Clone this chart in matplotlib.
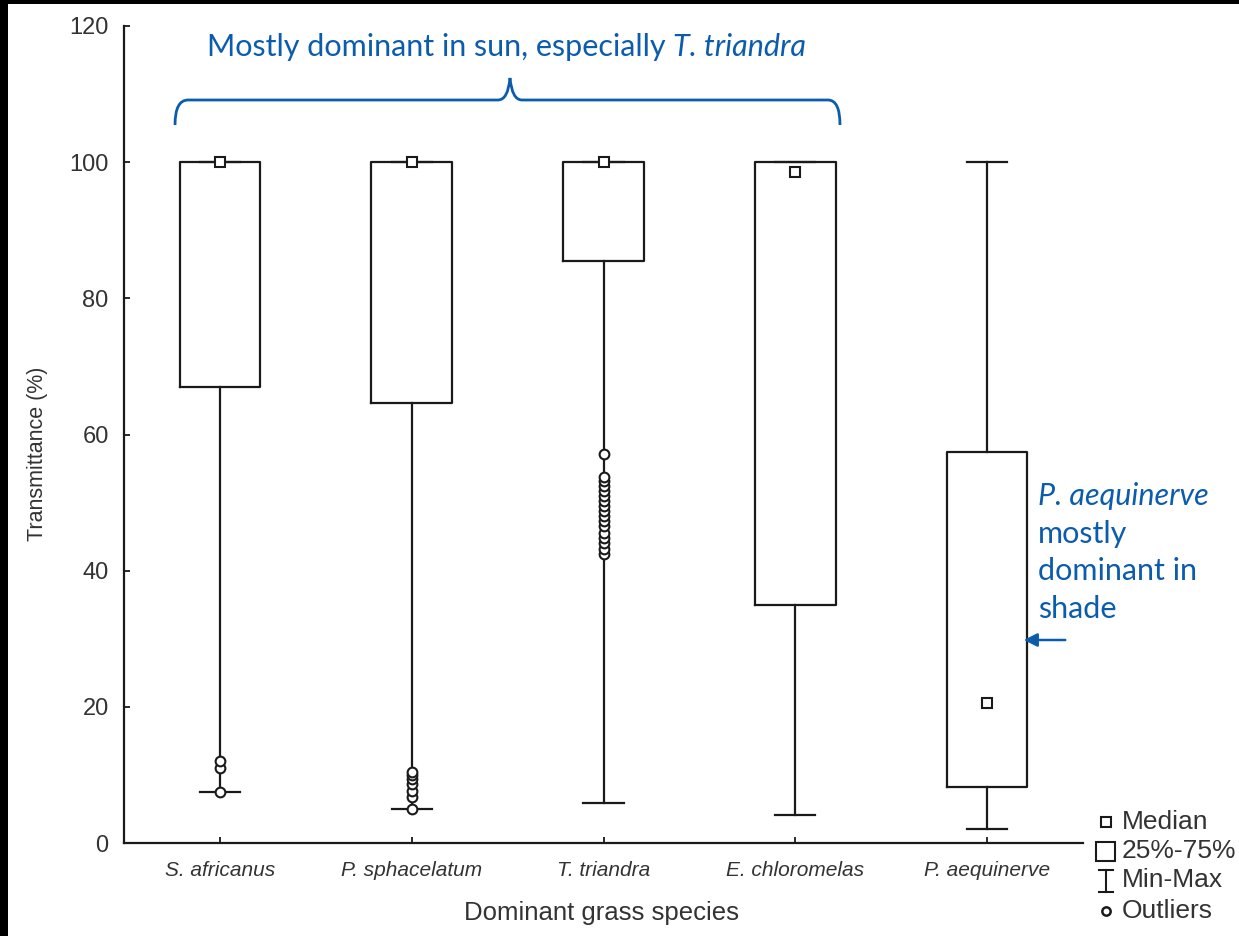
import matplotlib
matplotlib.use("Agg")
import matplotlib.pyplot as plt
from matplotlib.path import Path
from matplotlib.patches import PathPatch, Rectangle, FancyArrowPatch
from matplotlib.lines import Line2D

# ---- data -------------------------------------------------------------
species = ["S. africanus", "P. sphacelatum", "T. triandra", "E. chloromelas", "P. aequinerve"]
medians = [100.0, 100.0, 100.0, 98.5, 20.6]
q1 = [67.0, 64.6, 85.5, 35.0, 8.2]
q3 = [100.0, 100.0, 100.0, 100.0, 57.5]
minimum = [7.5, 5.0, 5.9, 4.1, 2.1]
maximum = [100.0, 100.0, 100.0, 100.0, 100.0]
outliers = [
    [7.5, 11.0, 12.0],
    [5.0, 6.8, 7.6, 8.6, 9.4, 10.0, 10.5],
    [42.5, 43.2, 44.0, 44.8, 45.5, 46.5, 47.3, 48.0, 48.8, 49.5, 50.2,
     51.0, 51.7, 52.4, 53.1, 53.8, 57.2],
    [],
    [],
]
yticks = [0, 20, 40, 60, 80, 100, 120]

W, H = 1239, 936
BLUE = "#0b5cad"
INK = "#1a1a1a"
TXT = "#333333"

plt.rcParams["font.family"] = ["Liberation Sans", "DejaVu Sans"]

fig = plt.figure(figsize=(W / 100, H / 100), dpi=100)
fig.patch.set_facecolor("white")


def fx(px):
    return px / W


def fy(py):
    return 1 - py / H


ax = fig.add_axes([fx(124), fy(843), (1083 - 124) / W, (843 - 26) / H])

positions = list(range(1, len(species) + 1))
stats = [
    dict(med=m, q1=a, q3=b, whislo=lo, whishi=hi, fliers=f, label=s)
    for s, m, a, b, lo, hi, f in zip(species, medians, q1, q3, minimum, maximum, outliers)
]
line_kw = dict(color=INK, linewidth=1.6)
ax.bxp(
    stats,
    positions=positions,
    widths=0.42,
    capwidths=0.21,
    showfliers=True,
    boxprops=line_kw,
    whiskerprops=line_kw,
    capprops=line_kw,
    medianprops=dict(linestyle="none"),
    flierprops=dict(marker="o", markerfacecolor="white", markeredgecolor=INK,
                    markersize=7, markeredgewidth=1.5),
)
ax.plot(positions, medians, linestyle="none", marker="s", markerfacecolor="white",
        markeredgecolor=INK, markersize=7, markeredgewidth=1.5, zorder=5)

ax.set_xlim(0.5, len(species) + 0.5)
ax.set_ylim(0, 120)
ax.set_yticks(yticks)
ax.set_xticks(positions)
ax.set_xticklabels(species, fontstyle="italic", fontsize=15, color=TXT)
ax.tick_params(axis="y", labelsize=17, labelcolor=TXT, direction="in", length=4,
               width=1.3, color=INK, pad=11)
ax.tick_params(axis="x", direction="in", length=4, width=1.3, color=INK, pad=13)
for side in ("top", "right"):
    ax.spines[side].set_visible(False)
for side in ("left", "bottom"):
    ax.spines[side].set_color(INK)
    ax.spines[side].set_linewidth(1.6)

fig.text(fx(38), fy(454), "Transmittance (%)", rotation=90, fontsize=15.5,
         color=TXT, ha="center", va="center")
fig.text(fx(601), fy(913), "Dominant grass species", fontsize=18.5, color=TXT,
         ha="center", va="center")

# ---- annotations ------------------------------------------------------
renderer = fig.canvas.get_renderer()
head = fig.text(fx(207), fy(56), "Mostly dominant in sun, especially",
                fontsize=22, color=BLUE, ha="left", va="baseline", family="Lato")
head_box = head.get_window_extent(renderer)
fig.text(head_box.x1 / (W) + fx(7), fy(56), "T. triandra", fontsize=22, color=BLUE,
         ha="left", va="baseline", family="Lato", fontstyle="italic")

brace_px = [
    (175, 125), (175, 100), (188, 100),
    (498, 100),
    (508, 100), (510, 78),
    (512, 100), (522, 100),
    (828, 100),
    (840, 100), (840, 125),
]
codes = [Path.MOVETO, Path.CURVE3, Path.CURVE3, Path.LINETO, Path.CURVE3, Path.CURVE3,
         Path.CURVE3, Path.CURVE3, Path.LINETO, Path.CURVE3, Path.CURVE3]
brace = Path([(fx(x), fy(y)) for x, y in brace_px], codes)
fig.add_artist(PathPatch(brace, facecolor="none", edgecolor=BLUE, linewidth=2.0,
                         transform=fig.transFigure))

shade_lines = ["P. aequinerve", "mostly", "dominant in", "shade"]
for i, line in enumerate(shade_lines):
    fig.text(fx(1038), fy(505 + 37.5 * i), line, fontsize=22, color=BLUE,
             ha="left", va="baseline", family="Lato",
             fontstyle="italic" if i == 0 else "normal")

fig.add_artist(FancyArrowPatch((fx(1068), fy(640)), (fx(1021), fy(640)),
                               transform=fig.transFigure, arrowstyle="-|>",
                               mutation_scale=20, color=BLUE, linewidth=1.8))

# ---- key --------------------------------------------------------------
key_x = 1106
key_rows = [822, 851, 880, 911]
key_labels = ["Median", "25%-75%", "Min-Max", "Outliers"]
fig.add_artist(Line2D([fx(key_x)], [fy(key_rows[0])], marker="s", markersize=7,
                      markerfacecolor="white", markeredgecolor=INK, markeredgewidth=1.5,
                      transform=fig.transFigure))
fig.add_artist(Rectangle((fx(1096), fy(861)), 19 / W, 19 / H, facecolor="white",
                         edgecolor=INK, linewidth=1.5, transform=fig.transFigure))
for seg in ([(1099, 870), (1113, 870)], [(1106, 870), (1106, 892)],
            [(1099, 892), (1113, 892)]):
    fig.add_artist(Line2D([fx(p[0]) for p in seg], [fy(p[1]) for p in seg],
                          color=INK, linewidth=1.5, transform=fig.transFigure))
fig.add_artist(Line2D([fx(key_x)], [fy(key_rows[3])], marker="o", markersize=6,
                      markerfacecolor="white", markeredgecolor=INK, markeredgewidth=1.8,
                      transform=fig.transFigure))
for y, lab in zip(key_rows, key_labels):
    fig.text(fx(1122), fy(y), lab, fontsize=19, color=TXT, ha="left", va="center")

# ---- frame edges ------------------------------------------------------
fig.add_artist(Rectangle((0, fy(4)), 1, 4 / H, facecolor="black", edgecolor="none",
                         transform=fig.transFigure))
fig.add_artist(Rectangle((0, 0), 8 / W, 1, facecolor="black", edgecolor="none",
                         transform=fig.transFigure))

fig.savefig("out.png", dpi=100)
